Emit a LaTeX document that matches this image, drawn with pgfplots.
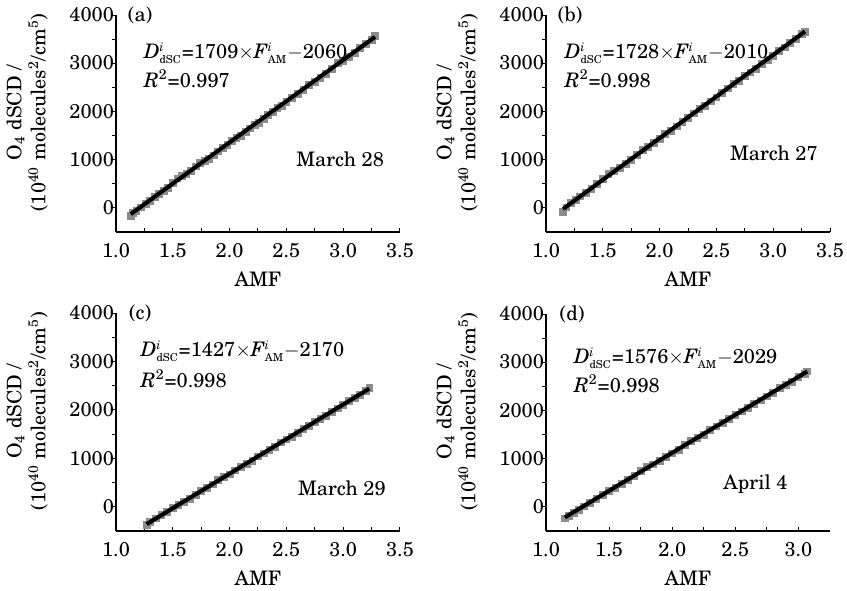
\documentclass[border=0pt]{standalone}
\usepackage[T1]{fontenc}
\usepackage{newcent}
\usepackage{pgfplots}
\pgfplotsset{compat=1.18}
\definecolor{ptgray}{RGB}{140,140,140}
\newcommand{\supsub}[2]{$^{\mbox{\fontsize{6}{6}\selectfont\itshape #1}}_{\mbox{\fontsize{5.5}{6}\selectfont #2}}$}
\pgfplotsset{
  panel/.style={
    scale only axis, width=142pt, height=108.5pt,
    anchor=south west,
    axis lines*=left, axis line style={line width=0.6pt},
    xmin=1, xmax=3.5, ymin=-500, ymax=4000,
    xtick={1,1.5,2,2.5,3,3.5}, minor x tick num=1,
    ytick={0,1000,2000,3000,4000}, minor y tick num=1,
    x tick label style={yshift=-2.5pt,/pgf/number format/.cd,fixed,fixed zerofill,precision=1,assume math mode=true,/tikz/.cd},
    y tick label style={xshift=2.5pt,/pgf/number format/.cd,fixed,1000 sep={},assume math mode=true,/tikz/.cd},
    scaled ticks=false,
    tick style={black, line width=0.5pt},
    major tick length=2pt, minor tick length=2pt,
    tick align=inside,
    y tick style={xshift=-2pt},
    xlabel={AMF},
    ylabel={O\textsubscript{4} dSCD /\\(10\textsuperscript{40} molecules\textsuperscript{2}/cm\textsuperscript{5})},
    ylabel style={align=center, at={(ticklabel cs:0.55)}, anchor=near ticklabel, yshift=4pt},
    clip=false, clip mode=individual,
  },
  pts/.style={only marks, mark=square*, mark size=1.7pt, color=ptgray},
  fit/.style={black, line width=2pt, no markers},
}
\begin{document}
\begin{tikzpicture}
\useasboundingbox (0,0) rectangle (423.5pt,295pt);

% (a) March 28
\begin{axis}[panel, at={(58pt,179pt)}]
\addplot[pts] coordinates {
(1.13,-160) (1.15,-105) (1.18,-60) (1.22,10) (1.26,75) (1.30,150) (1.34,220)
(1.38,290) (1.42,350) (1.46,420) (1.50,510) (1.54,610) (1.58,660) (1.62,700)
(1.66,770) (1.70,860) (1.74,940) (1.78,970) (1.82,1020) (1.86,1090) (1.90,1170)
(1.94,1240) (1.98,1310) (2.02,1390) (2.06,1450) (2.10,1500) (2.14,1570)
(2.18,1650) (2.22,1720) (2.26,1770) (2.30,1840) (2.34,1930) (2.38,1990)
(2.42,2070) (2.46,2120) (2.50,2200) (2.55,2280) (2.60,2370) (2.65,2440)
(2.70,2550) (2.75,2620) (2.80,2700) (2.85,2780) (2.90,2890) (2.95,3000)
(3.00,3040) (3.05,3130) (3.10,3220) (3.15,3310) (3.20,3400) (3.25,3490) (3.28,3560)
};
\addplot[fit] coordinates {(1.13,-129) (3.28,3546)};
\node at (rel axis cs:0.085,1) {(a)};
\node[anchor=base west] at (rel axis cs:0.074,0.80) {\textit{D}\supsub{i}{dSC}=1709${\times}$\textit{F}\supsub{i}{AM}${-}$2060};
\node[anchor=base west] at (rel axis cs:0.074,0.668) {\textit{R}\textsuperscript{2}=0.997};
\node[anchor=base west] at (rel axis cs:0.61,0.304) {March 28};
\end{axis}

% (b) March 27
\begin{axis}[panel, at={(273pt,179pt)}]
\addplot[pts] coordinates {
(1.15,-80) (1.18,10) (1.22,100) (1.26,160) (1.30,240) (1.35,310) (1.40,390)
(1.45,490) (1.50,600) (1.55,700) (1.60,760) (1.65,830) (1.70,910) (1.75,1000)
(1.80,1100) (1.85,1210) (1.90,1270) (1.95,1350) (2.00,1430) (2.05,1530)
(2.10,1600) (2.15,1690) (2.20,1790) (2.25,1870) (2.30,1960) (2.35,2050)
(2.40,2120) (2.45,2210) (2.50,2290) (2.55,2390) (2.60,2480) (2.65,2570)
(2.70,2640) (2.75,2740) (2.80,2810) (2.85,2890) (2.90,2990) (2.95,3070)
(3.00,3160) (3.05,3260) (3.10,3330) (3.15,3420) (3.20,3510) (3.25,3600) (3.28,3650)
};
\addplot[fit] coordinates {(1.15,-23) (3.28,3658)};
\node at (rel axis cs:0.085,1) {(b)};
\node[anchor=base west] at (rel axis cs:0.042,0.80) {\textit{D}\supsub{i}{dSC}=1728${\times}$\textit{F}\supsub{i}{AM}${-}$2010};
\node[anchor=base west] at (rel axis cs:0.042,0.668) {\textit{R}\textsuperscript{2}=0.998};
\node[anchor=base west] at (rel axis cs:0.623,0.33) {March 27};
\end{axis}

% (c) March 29
\begin{axis}[panel, at={(58pt,29.5pt)}, height=109pt]
\addplot[pts] coordinates {
(1.27,-380) (1.30,-320) (1.35,-240) (1.40,-170) (1.45,-100) (1.50,-30)
(1.55,40) (1.60,100) (1.65,170) (1.70,240) (1.75,330) (1.80,390) (1.85,460)
(1.90,550) (1.95,610) (2.00,670) (2.05,750) (2.10,830) (2.15,890) (2.20,950)
(2.25,1040) (2.30,1100) (2.35,1170) (2.40,1240) (2.45,1330) (2.50,1390)
(2.55,1450) (2.60,1530) (2.65,1600) (2.70,1670) (2.75,1750) (2.80,1810)
(2.85,1880) (2.90,1960) (2.95,2030) (3.00,2100) (3.05,2180) (3.10,2240)
(3.15,2310) (3.20,2390) (3.23,2450)
};
\addplot[fit] coordinates {(1.27,-358) (3.23,2439)};
\node at (rel axis cs:0.085,1) {(c)};
\node[anchor=base west] at (rel axis cs:0.063,0.80) {\textit{D}\supsub{i}{dSC}=1427${\times}$\textit{F}\supsub{i}{AM}${-}$2170};
\node[anchor=base west] at (rel axis cs:0.063,0.66) {\textit{R}\textsuperscript{2}=0.998};
\node[anchor=base west] at (rel axis cs:0.616,0.165) {March 29};
\end{axis}

% (d) April 4
\begin{axis}[panel, at={(273pt,29.5pt)}, xmax=3.25, xtick={1,1.5,2,2.5,3}]
\addplot[pts] coordinates {
(1.15,-240) (1.18,-190) (1.22,-120) (1.26,-60) (1.30,10) (1.35,90)
(1.40,160) (1.45,250) (1.50,330) (1.55,400) (1.60,480) (1.65,560) (1.70,640)
(1.75,740) (1.80,830) (1.85,880) (1.90,960) (1.95,1040) (2.00,1110)
(2.05,1190) (2.10,1290) (2.15,1370) (2.20,1430) (2.25,1500) (2.30,1590)
(2.35,1670) (2.40,1740) (2.45,1820) (2.50,1900) (2.55,1980) (2.60,2050)
(2.65,2140) (2.70,2210) (2.75,2290) (2.80,2370) (2.85,2460) (2.90,2530)
(2.95,2600) (3.00,2690) (3.05,2760) (3.07,2810)
};
\addplot[fit] coordinates {(1.15,-217) (3.07,2809)};
\node at (rel axis cs:0.092,1) {(d)};
\node[anchor=base west] at (rel axis cs:0.074,0.77) {\textit{D}\supsub{i}{dSC}=1576${\times}$\textit{F}\supsub{i}{AM}${-}$2029};
\node[anchor=base west] at (rel axis cs:0.074,0.64) {\textit{R}\textsuperscript{2}=0.998};
\node[anchor=base west] at (rel axis cs:0.60,0.19) {April 4};
\end{axis}
\end{tikzpicture}
\end{document}
